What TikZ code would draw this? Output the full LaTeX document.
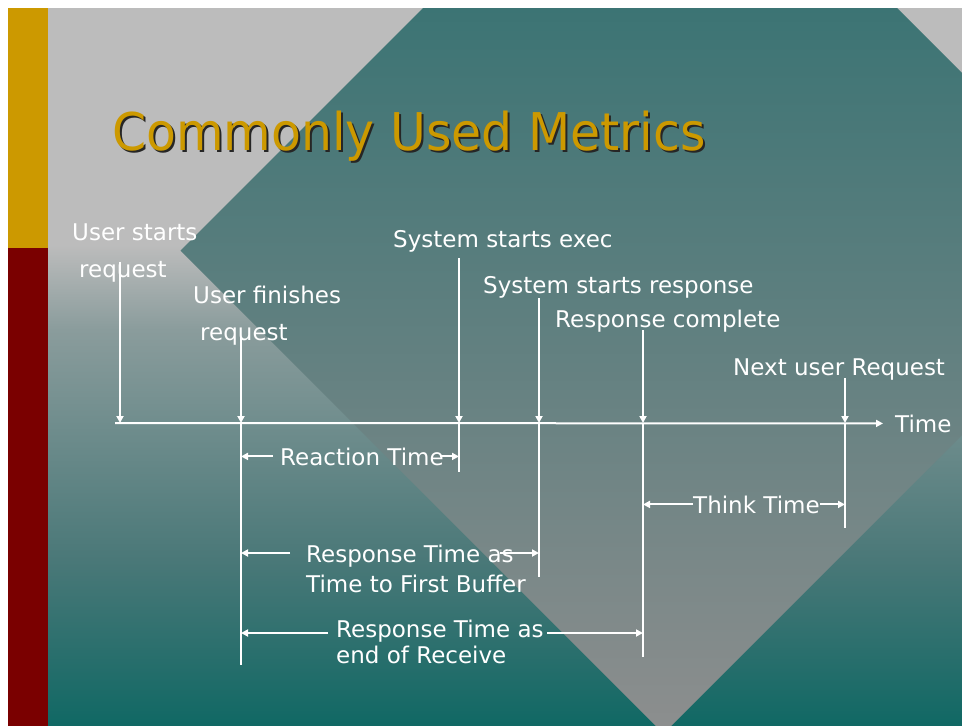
\documentclass[tikz,border=0pt]{standalone}
\usepackage{fontspec}
\usepackage{tikz}
\usetikzlibrary{arrows.meta}
\newfontfamily\slidefont{DejaVu Sans}
\newfontfamily\titlefont[FakeStretch=0.94]{DejaVu Sans}
\definecolor{slidegold}{HTML}{CC9900}
\definecolor{slidered}{HTML}{7A0000}
\definecolor{palegray}{HTML}{BCBCBC}
\definecolor{midgray}{HTML}{8A9C9C}
\definecolor{lowteal}{HTML}{4A7878}
\definecolor{deepteal}{HTML}{106864}
\definecolor{topteal}{HTML}{3C7474}
\definecolor{lowgray}{HTML}{8C8E8E}
% path box maps to 25bp..75bp
\pgfdeclareverticalshading{slidebg}{100bp}{color(0bp)=(deepteal); color(25bp)=(deepteal); color(36.6bp)=(lowteal); color(52.6bp)=(midgray); color(58.5bp)=(palegray); color(100bp)=(palegray)}

\begin{document}
\begin{tikzpicture}[x=1pt,y=-1pt,>={Triangle[length=7pt,width=7pt]},
  lbl/.style={text=white,inner sep=0pt,align=left,anchor=base west,
    font=\slidefont\fontsize{23}{37}\selectfont},
  ttltext/.style={inner sep=0pt,anchor=base west,
    font=\titlefont\fontsize{52}{60}\selectfont},
  wline/.style={white,line width=2pt}]
\useasboundingbox (0,0) rectangle (962,726);
\fill[white] (0,0) rectangle (962,726);
% slide background
\shade[shading=slidebg] (8,8) rectangle (962,726);
\begin{scope}
\clip (660,-229) -- (1143,254) -- (663.5,733.5) -- (180.5,250.5) -- cycle;
\shade[top color=topteal,bottom color=lowgray] (8,8) rectangle (962,726);
\end{scope}
\fill[slidegold] (8,8) rectangle (48,248);
\fill[slidered] (8,248) rectangle (48,726);

% title
\node[ttltext,text=black!85] (ttlsh) at (114,152) {Commonly Used Metrics};
\node[ttltext,text=slidegold] (ttl) at (112,150) {Commonly Used Metrics};

% event labels (base = last line)
\node[lbl] (us) at (72,277) {User starts\\\hspace*{7pt}request};
\node[lbl] (uf) at (193,340) {User finishes\\\hspace*{7pt}request};
\node[lbl] (se) at (393,247) {System starts exec};
\node[lbl] (sr) at (483,293) {System starts response};
\node[lbl] (rc) at (555,327) {Response complete};
\node[lbl] (nx) at (733,375) {Next user Request};
\node[lbl] (tm) at (895,432) {Time};

% time axis
\coordinate (t0) at (115,423);
\draw[wline,->] (t0) -- ([xshift=-12pt]tm.west);

% event markers
\coordinate (us-top) at (120,262);
\coordinate (us-ax) at (120,423);
\coordinate (uf-top) at (241,337);
\coordinate (uf-ax) at (241,423);
\coordinate (uf-bot) at (241,665);
\coordinate (se-top) at (459,258);
\coordinate (se-ax) at (459,423);
\coordinate (se-bot) at (459,472);
\coordinate (sr-top) at (539,298);
\coordinate (sr-ax) at (539,423);
\coordinate (sr-bot) at (539,577);
\coordinate (rc-top) at (643,330);
\coordinate (rc-ax) at (643,423);
\coordinate (rc-bot) at (643,657);
\coordinate (nx-top) at (845,378);
\coordinate (nx-ax) at (845,423);
\coordinate (nx-bot) at (845,528);
\draw[wline,->] (us-top) -- (us-ax);
\draw[wline,->] (uf-top) -- (uf-ax);
\draw[wline,->] (se-top) -- (se-ax);
\draw[wline,->] (sr-top) -- (sr-ax);
\draw[wline,->] (rc-top) -- (rc-ax);
\draw[wline,->] (nx-top) -- (nx-ax);
\draw[wline] (uf-ax) -- (uf-bot);
\draw[wline] (se-ax) -- (se-bot);
\draw[wline] (sr-ax) -- (sr-bot);
\draw[wline] (rc-ax) -- (rc-bot);
\draw[wline] (nx-ax) -- (nx-bot);

% intervals
\node[lbl] (rt) at (280,465) {Reaction Time};
\draw[wline,->] ([xshift=-7pt]rt.west) -- (rt.west -| uf-ax);
\draw[wline,->] ([xshift=-4pt]rt.east) -- (rt.east -| se-ax);
\node[lbl] (tt) at (693,513) {Think Time};
\draw[wline,->] (tt.west) -- (tt.west -| rc-ax);
\draw[wline,->] (tt.east) -- (tt.east -| nx-ax);
\node[lbl,font=\slidefont\fontsize{23}{30}\selectfont] (rf) at (306,592) {Response Time as\\Time to First Buffer};
\coordinate (rf-l) at (290,553);
\coordinate (rf-r) at (500,553);
\draw[wline,->] (rf-l) -- (rf-l -| uf-ax);
\draw[wline,->] (rf-r) -- (rf-r -| sr-ax);
\node[lbl,font=\slidefont\fontsize{23}{26}\selectfont] (re) at (336,663) {Response Time as\\end of Receive};
\coordinate (re-l) at (328,633);
\coordinate (re-r) at (547,633);
\draw[wline,->] (re-l) -- (re-l -| uf-ax);
\draw[wline,->] (re-r) -- (re-r -| rc-ax);
\end{tikzpicture}
\end{document}
